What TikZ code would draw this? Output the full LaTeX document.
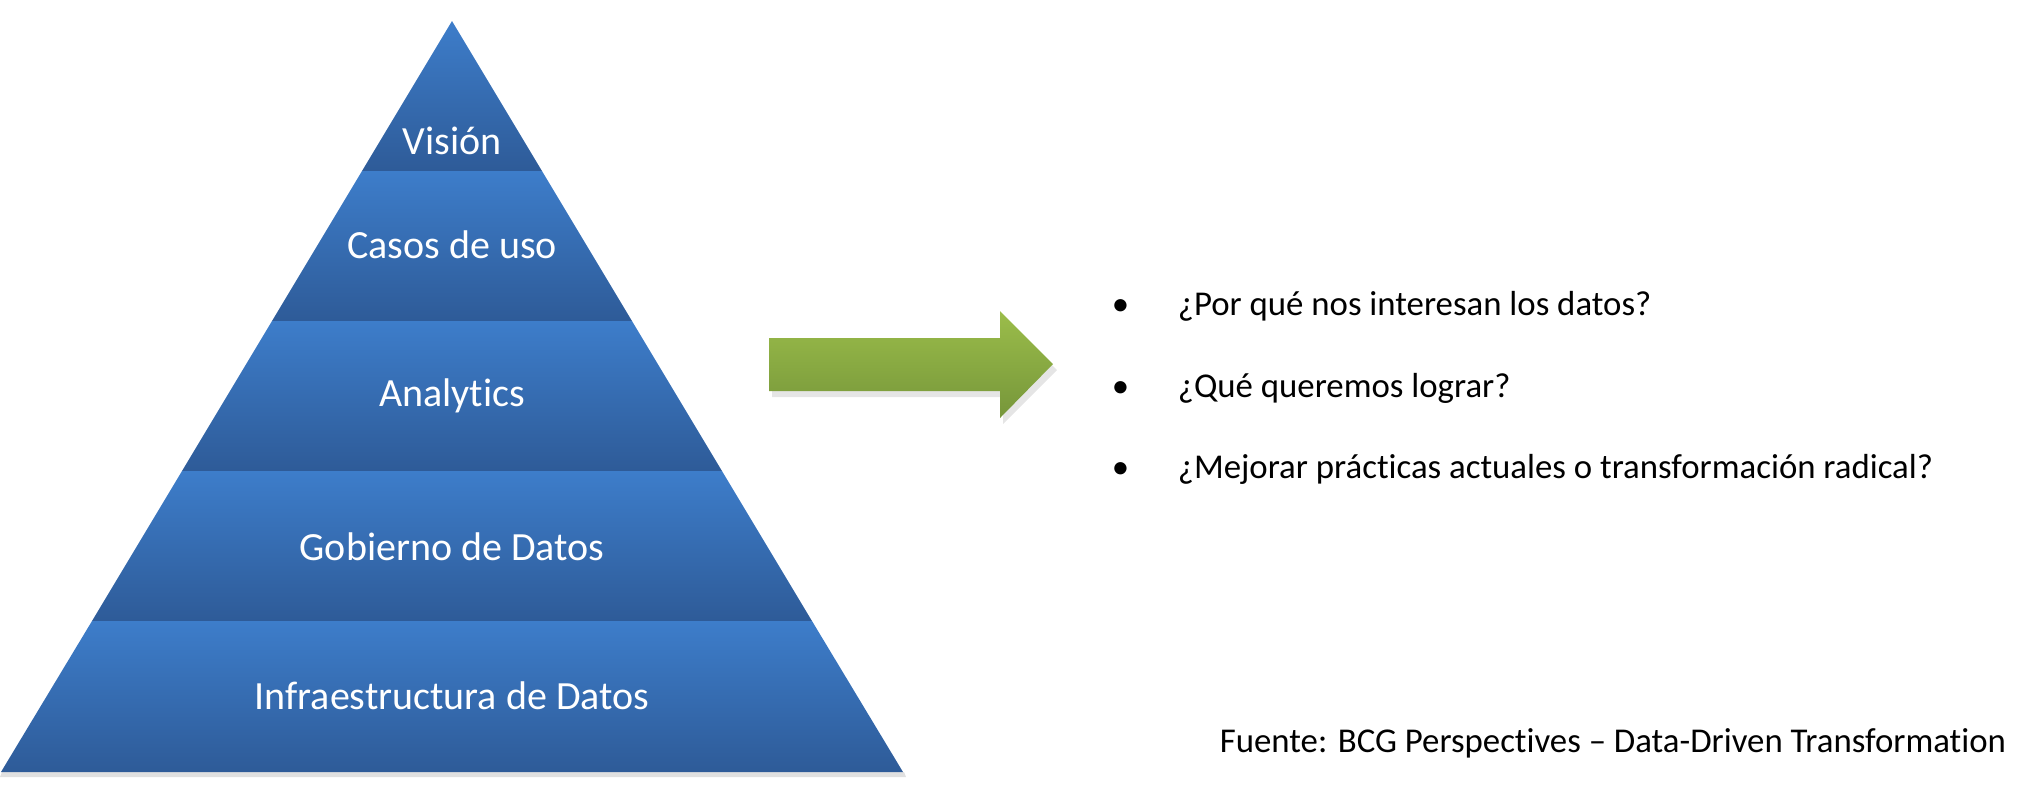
\documentclass[tikz,border=0pt]{standalone}
\usepackage{fontspec}
\setmainfont{Carlito}[Ligatures=NoCommon]
\definecolor{pyrTop}{RGB}{61,125,202}
\definecolor{pyrBot}{RGB}{46,91,152}
\definecolor{arrTop}{RGB}{155,189,74}
\definecolor{arrBot}{RGB}{118,150,58}
\tikzset{
  layer/.style={top color=pyrTop,bottom color=pyrBot},
  layerlabel/.style={text=white,font=\fontsize{20}{24}\selectfont,inner sep=0.75pt},
  itemtext/.style={anchor=base west,font=\fontsize{17.4}{20}\selectfont,inner sep=0.75pt},
}
\begin{document}
\begin{tikzpicture}[x=0.5pt,y=0.5pt,yscale=-1,xscale=1]
                \useasboundingbox (0,0) rectangle (2041,811);
                %Shadow of the pyramid
                \fill [black,opacity=0.12]   (2,772) -- (904,772) -- (906,777) -- (0,777) -- cycle ;
                %Layer Vision
                \shade [layer]   (452,21) -- (542,171) -- (362,171) -- cycle ;
                %Layer Casos de uso
                \shade [layer]   (362,171) -- (542,171) -- (632,321) -- (272,321) -- cycle ;
                %Layer Analytics
                \shade [layer]   (272,321) -- (632,321) -- (722,471) -- (182,471) -- cycle ;
                %Layer Gobierno
                \shade [layer]   (182,471) -- (722,471) -- (812,621) -- (92,621) -- cycle ;
                %Layer Infraestructura
                \shade [layer]   (92,621) -- (812,621) -- (903,772) -- (1,772) -- cycle ;

                %Shadow of the arrow
                \fill [black,opacity=0.10]   (772,344) -- (1003,344) -- (1003,317) -- (1057,370) -- (1003,424) -- (1003,397) -- (772,397) -- cycle ;
                %Arrow
                \shade [top color=arrTop,bottom color=arrBot]   (769,338) -- (1000,338) -- (1000,311) -- (1053,364) -- (1000,418) -- (1000,391) -- (769,391) -- cycle ;

                % Text Node
                \node [layerlabel] (vision) at (452,141) {Visión};
                % Text Node
                \node [layerlabel] (casos) at (452,245) {Casos de uso};
                % Text Node
                \node [layerlabel] (analytics) at (452,396) {Analytics};
                % Text Node
                \node [layerlabel] (gobierno) at (452,547) {Gobierno de Datos};
                % Text Node
                \node [layerlabel] (infra) at (452,696) {Infraestructura de Datos};

                % Bullets
                \node [itemtext] (b1) at (1110,315) {•};
                \node [itemtext] (q1) at (1176,315) {¿Por qué nos interesan los datos?};
                \node [itemtext] (b2) at (1110,397) {•};
                \node [itemtext] (q2) at (1176,397) {¿Qué queremos lograr?};
                \node [itemtext] (b3) at (1110,478) {•};
                \node [itemtext] (q3) at (1176,478) {¿Mejorar prácticas actuales o transformación radical?};

                % Text Node
                \node [itemtext] (fuente) at (1218,752) {Fuente: BCG Perspectives – Data-Driven Transformation};
            \end{tikzpicture}
\end{document}
